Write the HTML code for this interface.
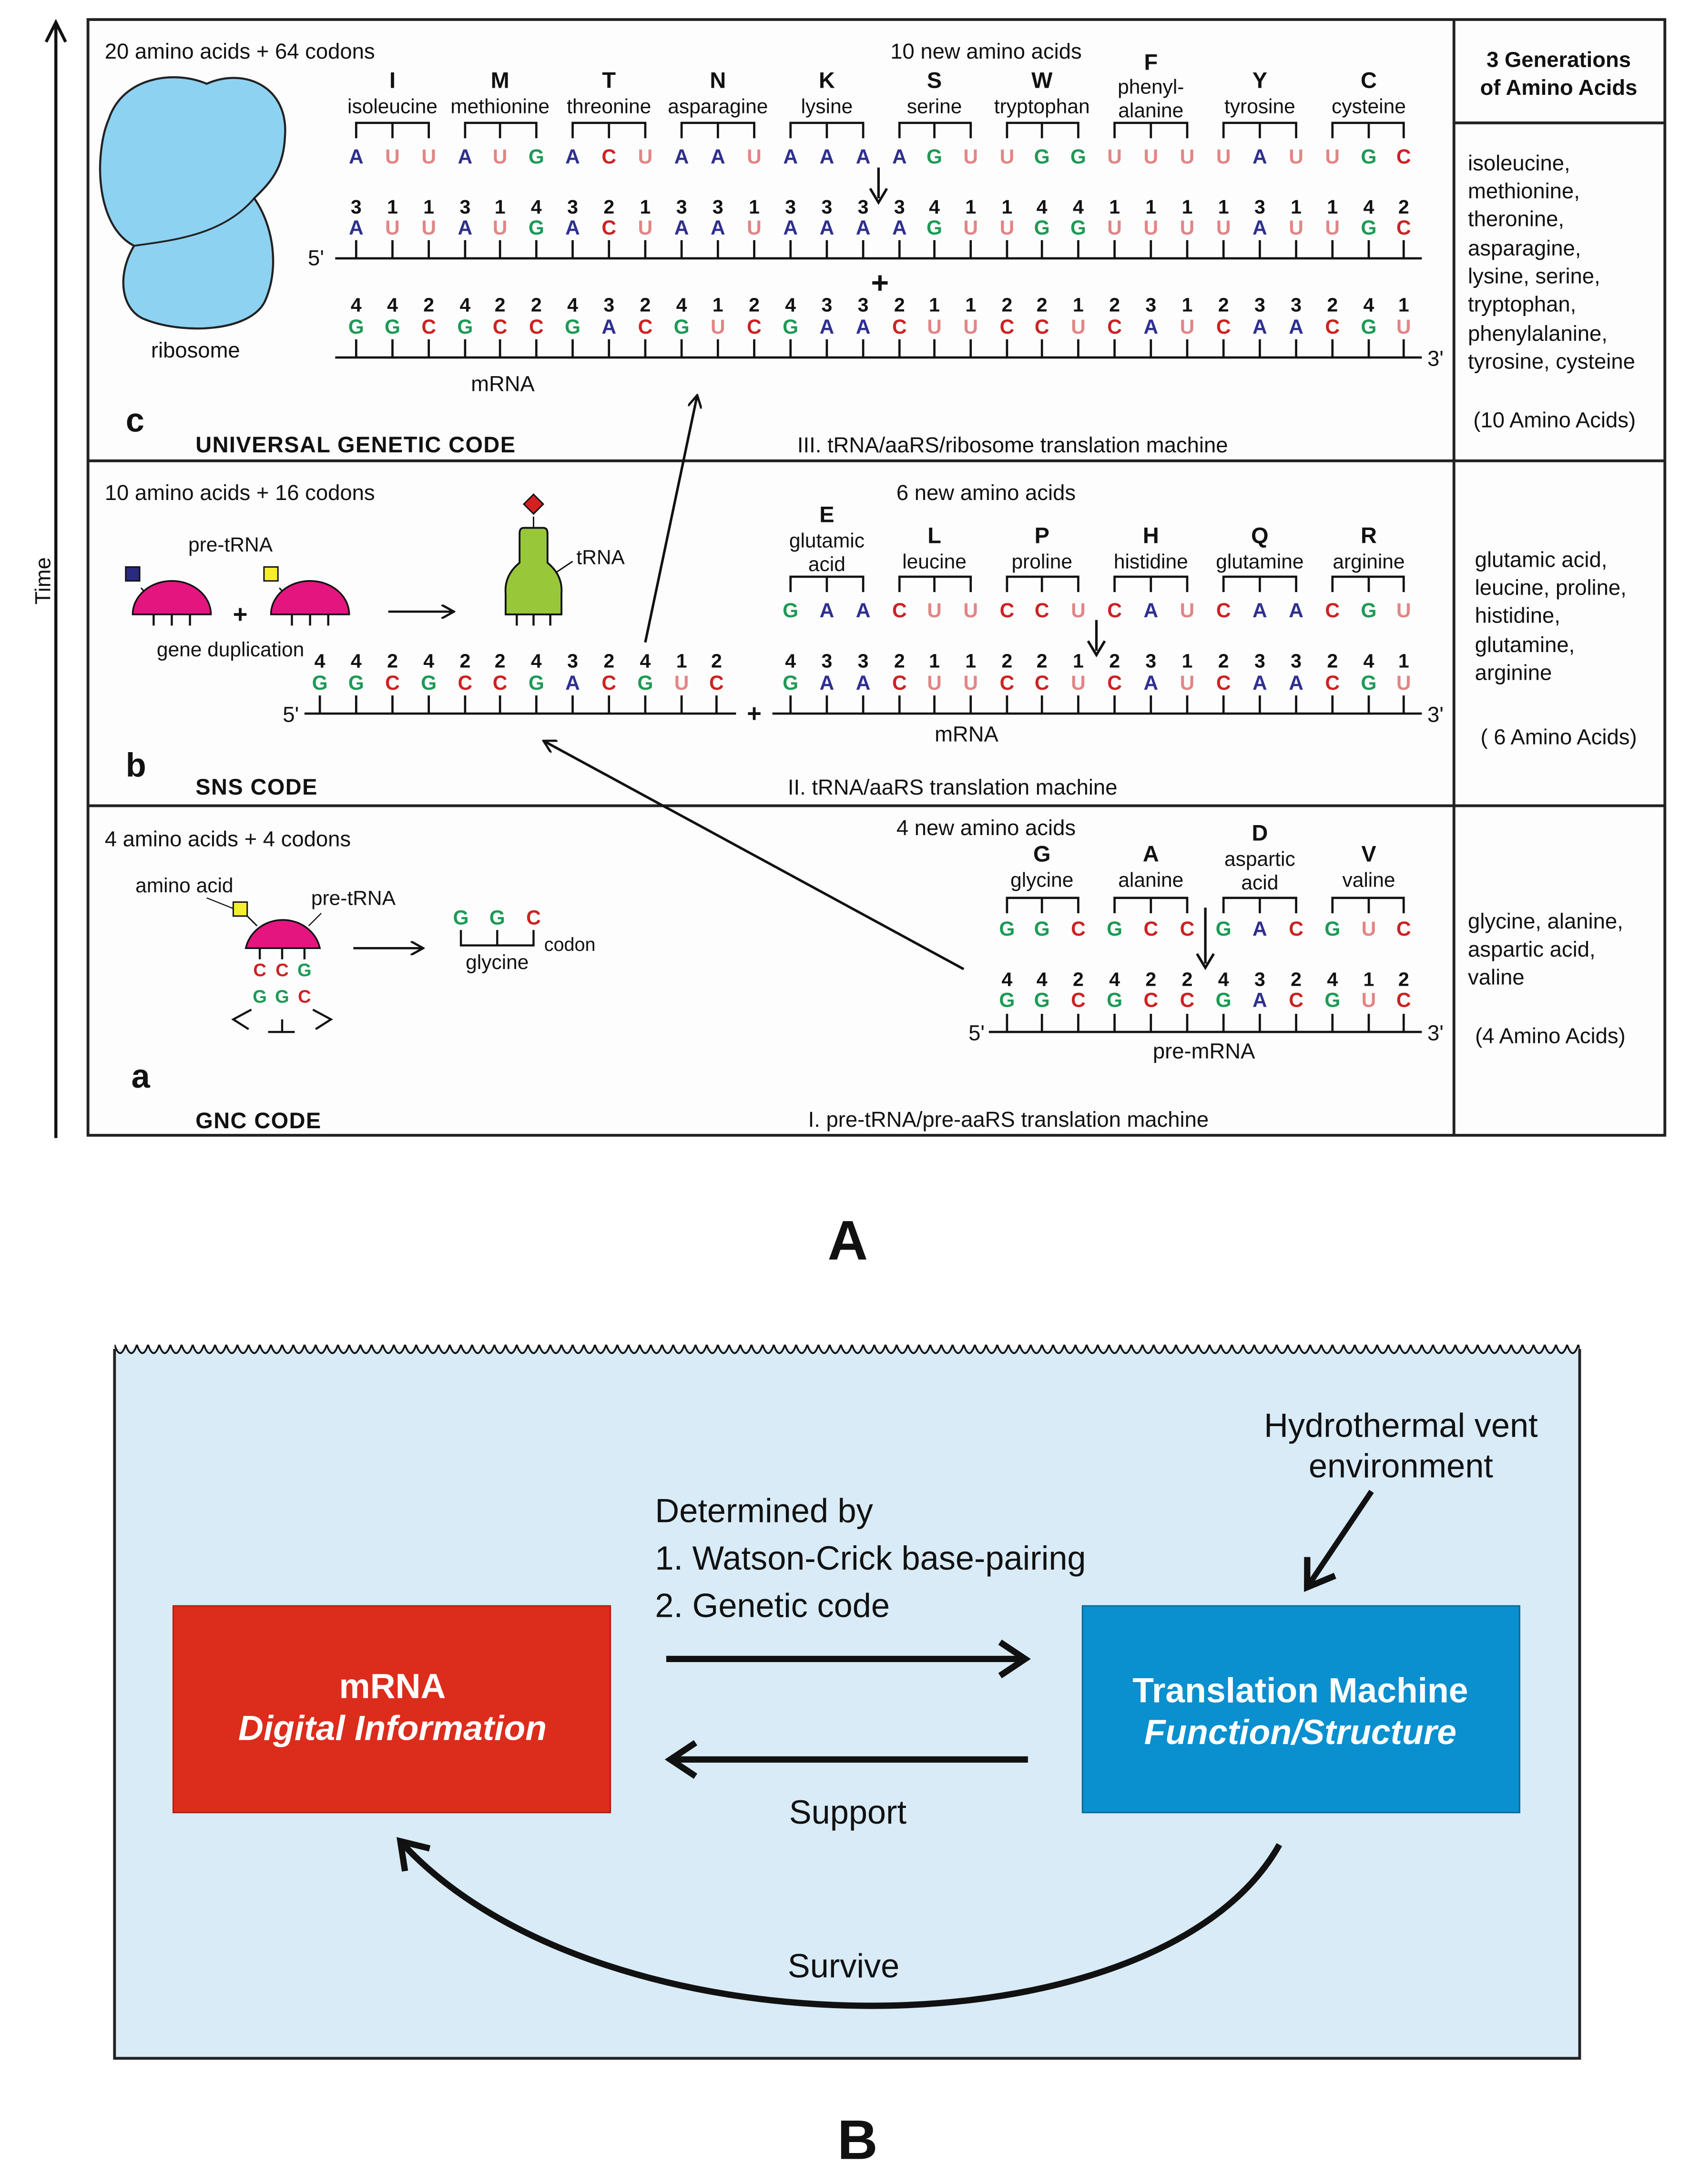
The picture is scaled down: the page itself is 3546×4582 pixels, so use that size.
<!DOCTYPE html>
<html><head><meta charset="utf-8"><style>
html,body{margin:0;padding:0;background:#fff}
svg{display:block}
text{font-family:"Liberation Sans",Arial,sans-serif;fill:#111}
.n{font-weight:bold;font-size:14.5px;text-anchor:middle}
.num{font-weight:bold;font-size:14px;text-anchor:middle;fill:#111}
.A{fill:#2e2f8e}.U{fill:#e28585}.G{fill:#1d9a55}.C{fill:#cc2222}
.lab{font-size:14.5px;text-anchor:middle}
.aa{font-size:16px;font-weight:bold;text-anchor:middle}
.t{font-size:15.5px}
.rc{font-size:15.5px}
.hd{font-size:16px;font-weight:bold;letter-spacing:.5px}
.bb{font-size:24px}
</style></head><body>
<svg width="3546" height="4582" viewBox="0 0 1210 1564" preserveAspectRatio="none" xmlns="http://www.w3.org/2000/svg">
<defs>
<marker id="ah" markerWidth="10" markerHeight="10" refX="8" refY="5" orient="auto" markerUnits="userSpaceOnUse"><path d="M0 0L9 5L0 10" fill="none" stroke="#111" stroke-width="1.6"/></marker>
<marker id="ah2" markerWidth="30" markerHeight="30" refX="22" refY="15" orient="auto" markerUnits="userSpaceOnUse"><path d="M6 3L24 15L6 27" fill="none" stroke="#111" stroke-width="4.5"/></marker>
<pattern id="wave" x="82" y="960" width="8" height="10" patternUnits="userSpaceOnUse"><path d="M0 3 Q2 9 4 9 Q6 9 8 3" fill="none" stroke="#111" stroke-width="1.3"/></pattern>
</defs>
<rect width="1210" height="1564" fill="#fff"/>
<!-- Panel A frame -->
<rect x="63" y="14" width="1129" height="799" fill="#fdfdfe" stroke="#222" stroke-width="2"/>
<path d="M1041 14V813M63 330H1192M63 577H1192M1041 88H1192" stroke="#222" stroke-width="2" fill="none"/>
<!-- time axis -->
<path d="M40 815V18" stroke="#111" stroke-width="2.2"/>
<path d="M33 30L40 16L47 30" fill="none" stroke="#111" stroke-width="2.2"/>
<text x="36" y="416" transform="rotate(-90 36 416)" class="t" text-anchor="middle">Time</text>

<!-- ===== Panel c ===== -->
<text x="75" y="42" class="t">20 amino acids + 64 codons</text>
<text x="706" y="42" class="t" text-anchor="middle">10 new amino acids</text>
<path d="M78 85 C88 55 125 50 148 60 C175 48 207 62 204 98 C203 122 192 132 182 142 C196 162 200 192 190 215 C180 238 130 240 102 228 C86 220 84 196 96 176 C76 166 70 136 72 112 C73 100 75 92 78 85Z" fill="#8ed2f2" stroke="#222" stroke-width="1.5"/>
<path d="M96 176 C125 172 160 168 182 142" fill="none" stroke="#222" stroke-width="1.3"/>
<text x="140" y="256" class="t" text-anchor="middle">ribosome</text>
<g class="aa"><text x="281" y="63">I</text><text x="358" y="63">M</text><text x="436" y="63">T</text><text x="514" y="63">N</text><text x="592" y="63">K</text><text x="669" y="63">S</text><text x="746" y="63">W</text><text x="824" y="50">F</text><text x="902" y="63">Y</text><text x="980" y="63">C</text></g>
<g class="lab"><text x="281" y="81">isoleucine</text><text x="358" y="81">methionine</text><text x="436" y="81">threonine</text><text x="514" y="81">asparagine</text><text x="592" y="81">lysine</text><text x="669" y="81">serine</text><text x="746" y="81">tryptophan</text><text x="824" y="67">phenyl-</text><text x="824" y="84">alanine</text><text x="902" y="81">tyrosine</text><text x="980" y="81">cysteine</text></g>
<path stroke="#111" stroke-width="1.6" fill="none" d="M255 99V88H307V99M281 88V99M333 99V88H384V99M358 88V99M410 99V88H462V99M436 88V99M488 99V88H540V99M514 88V99M566 99V88H618V99M592 88V99M644 99V88H695V99M669 88V99M721 99V88H772V99M746 88V99M798 99V88H850V99M824 88V99M876 99V88H928V99M902 88V99M954 99V88H1005V99M980 88V99"/>
<text y="117" class="n"><tspan x="255" class="A">A</tspan><tspan x="281" class="U">U</tspan><tspan x="307" class="U">U</tspan><tspan x="333" class="A">A</tspan><tspan x="358" class="U">U</tspan><tspan x="384" class="G">G</tspan><tspan x="410" class="A">A</tspan><tspan x="436" class="C">C</tspan><tspan x="462" class="U">U</tspan><tspan x="488" class="A">A</tspan><tspan x="514" class="A">A</tspan><tspan x="540" class="U">U</tspan><tspan x="566" class="A">A</tspan><tspan x="592" class="A">A</tspan><tspan x="618" class="A">A</tspan><tspan x="644" class="A">A</tspan><tspan x="669" class="G">G</tspan><tspan x="695" class="U">U</tspan><tspan x="721" class="U">U</tspan><tspan x="746" class="G">G</tspan><tspan x="772" class="G">G</tspan><tspan x="798" class="U">U</tspan><tspan x="824" class="U">U</tspan><tspan x="850" class="U">U</tspan><tspan x="876" class="U">U</tspan><tspan x="902" class="A">A</tspan><tspan x="928" class="U">U</tspan><tspan x="954" class="U">U</tspan><tspan x="980" class="G">G</tspan><tspan x="1005" class="C">C</tspan></text>
<path d="M629 120V142" stroke="#111" stroke-width="1.8"/><path d="M623 135L629 145L635 135" fill="none" stroke="#111" stroke-width="1.8"/>
<text y="153" class="num" x="255 281 307 333 358 384 410 436 462 488 514 540 566 592 618 644 669 695 721 746 772 798 824 850 876 902 928 954 980 1005">311314321331333341144111131142</text>
<text y="168" class="n"><tspan x="255" class="A">A</tspan><tspan x="281" class="U">U</tspan><tspan x="307" class="U">U</tspan><tspan x="333" class="A">A</tspan><tspan x="358" class="U">U</tspan><tspan x="384" class="G">G</tspan><tspan x="410" class="A">A</tspan><tspan x="436" class="C">C</tspan><tspan x="462" class="U">U</tspan><tspan x="488" class="A">A</tspan><tspan x="514" class="A">A</tspan><tspan x="540" class="U">U</tspan><tspan x="566" class="A">A</tspan><tspan x="592" class="A">A</tspan><tspan x="618" class="A">A</tspan><tspan x="644" class="A">A</tspan><tspan x="669" class="G">G</tspan><tspan x="695" class="U">U</tspan><tspan x="721" class="U">U</tspan><tspan x="746" class="G">G</tspan><tspan x="772" class="G">G</tspan><tspan x="798" class="U">U</tspan><tspan x="824" class="U">U</tspan><tspan x="850" class="U">U</tspan><tspan x="876" class="U">U</tspan><tspan x="902" class="A">A</tspan><tspan x="928" class="U">U</tspan><tspan x="954" class="U">U</tspan><tspan x="980" class="G">G</tspan><tspan x="1005" class="C">C</tspan></text>
<path stroke="#111" stroke-width="1.6" d="M240 185H1018M255 172V185M281 172V185M307 172V185M333 172V185M358 172V185M384 172V185M410 172V185M436 172V185M462 172V185M488 172V185M514 172V185M540 172V185M566 172V185M592 172V185M618 172V185M644 172V185M669 172V185M695 172V185M721 172V185M746 172V185M772 172V185M798 172V185M824 172V185M850 172V185M876 172V185M902 172V185M928 172V185M954 172V185M980 172V185M1005 172V185"/>
<text x="232" y="190" class="t" text-anchor="end">5'</text>
<text x="630" y="210" style="font-size:22px;font-weight:bold" text-anchor="middle">+</text>
<text y="223" class="num" x="255 281 307 333 358 384 410 436 462 488 514 540 566 592 618 644 669 695 721 746 772 798 824 850 876 902 928 954 980 1005">442422432412433211221231233241</text>
<text y="239" class="n"><tspan x="255" class="G">G</tspan><tspan x="281" class="G">G</tspan><tspan x="307" class="C">C</tspan><tspan x="333" class="G">G</tspan><tspan x="358" class="C">C</tspan><tspan x="384" class="C">C</tspan><tspan x="410" class="G">G</tspan><tspan x="436" class="A">A</tspan><tspan x="462" class="C">C</tspan><tspan x="488" class="G">G</tspan><tspan x="514" class="U">U</tspan><tspan x="540" class="C">C</tspan><tspan x="566" class="G">G</tspan><tspan x="592" class="A">A</tspan><tspan x="618" class="A">A</tspan><tspan x="644" class="C">C</tspan><tspan x="669" class="U">U</tspan><tspan x="695" class="U">U</tspan><tspan x="721" class="C">C</tspan><tspan x="746" class="C">C</tspan><tspan x="772" class="U">U</tspan><tspan x="798" class="C">C</tspan><tspan x="824" class="A">A</tspan><tspan x="850" class="U">U</tspan><tspan x="876" class="C">C</tspan><tspan x="902" class="A">A</tspan><tspan x="928" class="A">A</tspan><tspan x="954" class="C">C</tspan><tspan x="980" class="G">G</tspan><tspan x="1005" class="U">U</tspan></text>
<path stroke="#111" stroke-width="1.6" d="M240 256H1018M255 243V256M281 243V256M307 243V256M333 243V256M358 243V256M384 243V256M410 243V256M436 243V256M462 243V256M488 243V256M514 243V256M540 243V256M566 243V256M592 243V256M618 243V256M644 243V256M669 243V256M695 243V256M721 243V256M746 243V256M772 243V256M798 243V256M824 243V256M850 243V256M876 243V256M902 243V256M928 243V256M954 243V256M980 243V256M1005 243V256"/>
<text x="1022" y="262" class="t">3'</text>
<text x="360" y="280" class="t" text-anchor="middle">mRNA</text>
<text x="90" y="309" style="font-size:24px;font-weight:bold">c</text>
<text x="140" y="324" class="hd">UNIVERSAL GENETIC CODE</text>
<text x="725" y="324" class="t" text-anchor="middle">III. tRNA/aaRS/ribosome translation machine</text>
<text x="1116" y="48" class="t" text-anchor="middle" font-weight="bold">3 Generations</text>
<text x="1116" y="68" class="t" text-anchor="middle" font-weight="bold">of Amino Acids</text>
<g class="rc"><text x="1051" y="122">isoleucine,</text><text x="1051" y="142">methionine,</text><text x="1051" y="162">theronine,</text><text x="1051" y="183">asparagine,</text><text x="1051" y="203">lysine, serine,</text><text x="1051" y="223">tryptophan,</text><text x="1051" y="244">phenylalanine,</text><text x="1051" y="264">tyrosine, cysteine</text></g>
<text x="1113" y="306" class="rc" text-anchor="middle">(10 Amino Acids)</text>

<!-- ===== Panel b ===== -->
<text x="75" y="358" class="t">10 amino acids + 16 codons</text>
<text x="706" y="358" class="t" text-anchor="middle">6 new amino acids</text>
<text x="165" y="395" class="lab">pre-tRNA</text>
<path d="M101 421L109 430" stroke="#111"/><rect x="90" y="406" width="10" height="10" fill="#2a2a80" stroke="#111"/>
<path d="M95 440A28 24 0 0 1 151 440Z" fill="#e5157f" stroke="#111" stroke-width="1.2"/>
<path d="M110 440v8M123 440v8M136 440v8" stroke="#111" stroke-width="1.5"/>
<path d="M200 421L208 430" stroke="#111"/><rect x="189" y="406" width="10" height="10" fill="#f5ee30" stroke="#111"/>
<path d="M194 440A28 24 0 0 1 250 440Z" fill="#e5157f" stroke="#111" stroke-width="1.2"/>
<path d="M209 440v8M222 440v8M235 440v8" stroke="#111" stroke-width="1.5"/>
<text x="172" y="446" style="font-size:18px;font-weight:bold" text-anchor="middle">+</text>
<text x="165" y="470" class="lab">gene duplication</text>
<path d="M278 438H324" stroke="#111" stroke-width="1.6" marker-end="url(#ah)"/>
<path d="M382 370v8" stroke="#111"/><path d="M382 354L389 361L382 368L375 361Z" fill="#d42020" stroke="#111"/>
<path d="M375 378H389Q392 378 392 382V403Q403 412 402 425V440H362V425Q361 412 372 403V382Q372 378 375 378Z" fill="#98c83a" stroke="#111" stroke-width="1.3"/>
<path d="M370 440v8M382 440v8M394 440v8" stroke="#111" stroke-width="1.5"/>
<path d="M398 410L410 402" stroke="#111"/><text x="430" y="404" class="lab">tRNA</text>
<g class="aa"><text x="592" y="374">E</text><text x="669" y="389">L</text><text x="746" y="389">P</text><text x="824" y="389">H</text><text x="902" y="389">Q</text><text x="980" y="389">R</text></g>
<g class="lab"><text x="592" y="392">glutamic</text><text x="592" y="409">acid</text><text x="669" y="407">leucine</text><text x="746" y="407">proline</text><text x="824" y="407">histidine</text><text x="902" y="407">glutamine</text><text x="980" y="407">arginine</text></g>
<path stroke="#111" stroke-width="1.6" fill="none" d="M566 424V413H618V424M592 413V424M644 424V413H695V424M669 413V424M721 424V413H772V424M746 413V424M798 424V413H850V424M824 413V424M876 424V413H928V424M902 413V424M954 424V413H1005V424M980 413V424"/>
<text y="442" class="n"><tspan x="566" class="G">G</tspan><tspan x="592" class="A">A</tspan><tspan x="618" class="A">A</tspan><tspan x="644" class="C">C</tspan><tspan x="669" class="U">U</tspan><tspan x="695" class="U">U</tspan><tspan x="721" class="C">C</tspan><tspan x="746" class="C">C</tspan><tspan x="772" class="U">U</tspan><tspan x="798" class="C">C</tspan><tspan x="824" class="A">A</tspan><tspan x="850" class="U">U</tspan><tspan x="876" class="C">C</tspan><tspan x="902" class="A">A</tspan><tspan x="928" class="A">A</tspan><tspan x="954" class="C">C</tspan><tspan x="980" class="G">G</tspan><tspan x="1005" class="U">U</tspan></text>
<path d="M785 444V466" stroke="#111" stroke-width="1.8"/><path d="M779 459L785 469L791 459" fill="none" stroke="#111" stroke-width="1.8"/>
<text y="478" class="num" x="229 255 281 307 333 358 384 410 436 462 488 513">442422432412</text>
<text y="478" class="num" x="566 592 618 644 669 695 721 746 772 798 824 850 876 902 928 954 980 1005">433211221231233241</text>
<text y="494" class="n"><tspan x="229" class="G">G</tspan><tspan x="255" class="G">G</tspan><tspan x="281" class="C">C</tspan><tspan x="307" class="G">G</tspan><tspan x="333" class="C">C</tspan><tspan x="358" class="C">C</tspan><tspan x="384" class="G">G</tspan><tspan x="410" class="A">A</tspan><tspan x="436" class="C">C</tspan><tspan x="462" class="G">G</tspan><tspan x="488" class="U">U</tspan><tspan x="513" class="C">C</tspan><tspan x="566" class="G">G</tspan><tspan x="592" class="A">A</tspan><tspan x="618" class="A">A</tspan><tspan x="644" class="C">C</tspan><tspan x="669" class="U">U</tspan><tspan x="695" class="U">U</tspan><tspan x="721" class="C">C</tspan><tspan x="746" class="C">C</tspan><tspan x="772" class="U">U</tspan><tspan x="798" class="C">C</tspan><tspan x="824" class="A">A</tspan><tspan x="850" class="U">U</tspan><tspan x="876" class="C">C</tspan><tspan x="902" class="A">A</tspan><tspan x="928" class="A">A</tspan><tspan x="954" class="C">C</tspan><tspan x="980" class="G">G</tspan><tspan x="1005" class="U">U</tspan></text>
<path stroke="#111" stroke-width="1.6" d="M218 511H527M229 498V511M255 498V511M281 498V511M307 498V511M333 498V511M358 498V511M384 498V511M410 498V511M436 498V511M462 498V511M488 498V511M513 498V511M553 511H1018M566 498V511M592 498V511M618 498V511M644 498V511M669 498V511M695 498V511M721 498V511M746 498V511M772 498V511M798 498V511M824 498V511M850 498V511M876 498V511M902 498V511M928 498V511M954 498V511M980 498V511M1005 498V511"/>
<text x="214" y="517" class="t" text-anchor="end">5'</text>
<text x="540" y="517" style="font-size:18px;font-weight:bold" text-anchor="middle">+</text>
<text x="1022" y="517" class="t">3'</text>
<text x="692" y="531" class="t" text-anchor="middle">mRNA</text>
<text x="90" y="556" style="font-size:24px;font-weight:bold">b</text>
<text x="140" y="569" class="hd">SNS CODE</text>
<text x="682" y="569" class="t" text-anchor="middle">II. tRNA/aaRS translation machine</text>
<g class="rc"><text x="1056" y="406">glutamic acid,</text><text x="1056" y="426">leucine, proline,</text><text x="1056" y="446">histidine,</text><text x="1056" y="467">glutamine,</text><text x="1056" y="487">arginine</text></g>
<text x="1116" y="533" class="rc" text-anchor="middle">( 6 Amino Acids)</text>
<!-- long arrows -->
<path d="M462 460L499 284" stroke="#111" stroke-width="1.8" marker-end="url(#ah)"/>
<path d="M690 694L390 531" stroke="#111" stroke-width="1.8" marker-end="url(#ah)"/>

<!-- ===== Panel a ===== -->
<text x="75" y="606" class="t">4 amino acids + 4 codons</text>
<text x="706" y="598" class="t" text-anchor="middle">4 new amino acids</text>
<text x="132" y="639" class="lab">amino acid</text>
<path d="M148 643L168 651" stroke="#111" stroke-width=".8"/>
<path d="M176 655L184 663" stroke="#111"/><rect x="167" y="646" width="10" height="10" fill="#f5ee30" stroke="#111"/>
<path d="M176 679A27 25 0 0 1 229 679Z" fill="#e5157f" stroke="#111" stroke-width="1.2"/>
<path d="M186 679v8M202 679v8M218 679v8" stroke="#111" stroke-width="1.5"/>
<text x="253" y="648" class="lab">pre-tRNA</text><path d="M221 663L230 654" stroke="#111" stroke-width=".8"/>
<text y="699" class="n" style="font-size:13px"><tspan x="186" class="C">C</tspan><tspan x="202" class="C">C</tspan><tspan x="218" class="G">G</tspan></text>
<text y="718" class="n" style="font-size:13px"><tspan x="186" class="G">G</tspan><tspan x="202" class="G">G</tspan><tspan x="218" class="C">C</tspan></text>
<path d="M180 723L167 730L178 737M192 739H211M202 730V739M224 723L237 730L226 737" fill="none" stroke="#111" stroke-width="1.5"/>
<path d="M253 679H302" stroke="#111" stroke-width="1.6" marker-end="url(#ah)"/>
<text y="662" class="n"><tspan x="330" class="G">G</tspan><tspan x="356" class="G">G</tspan><tspan x="382" class="C">C</tspan></text>
<path d="M330 666V677H382V666M356 666V677" fill="none" stroke="#111" stroke-width="1.5"/>
<text x="356" y="694" class="lab">glycine</text>
<text x="408" y="681" class="lab" style="font-size:13.5px">codon</text>
<g class="aa"><text x="746" y="617">G</text><text x="824" y="617">A</text><text x="902" y="602">D</text><text x="980" y="617">V</text></g>
<g class="lab"><text x="746" y="635">glycine</text><text x="824" y="635">alanine</text><text x="902" y="620">aspartic</text><text x="902" y="637">acid</text><text x="980" y="635">valine</text></g>
<path stroke="#111" stroke-width="1.6" fill="none" d="M721 654V643H772V654M746 643V654M798 654V643H850V654M824 643V654M876 654V643H928V654M902 643V654M954 654V643H1005V654M980 643V654"/>
<text y="670" class="n"><tspan x="721" class="G">G</tspan><tspan x="746" class="G">G</tspan><tspan x="772" class="C">C</tspan><tspan x="798" class="G">G</tspan><tspan x="824" class="C">C</tspan><tspan x="850" class="C">C</tspan><tspan x="876" class="G">G</tspan><tspan x="902" class="A">A</tspan><tspan x="928" class="C">C</tspan><tspan x="954" class="G">G</tspan><tspan x="980" class="U">U</tspan><tspan x="1005" class="C">C</tspan></text>
<path d="M863 650V690" stroke="#111" stroke-width="1.8"/><path d="M857 683L863 693L869 683" fill="none" stroke="#111" stroke-width="1.8"/>
<text y="706" class="num" x="721 746 772 798 824 850 876 902 928 954 980 1005">442422432412</text>
<text y="721" class="n"><tspan x="721" class="G">G</tspan><tspan x="746" class="G">G</tspan><tspan x="772" class="C">C</tspan><tspan x="798" class="G">G</tspan><tspan x="824" class="C">C</tspan><tspan x="850" class="C">C</tspan><tspan x="876" class="G">G</tspan><tspan x="902" class="A">A</tspan><tspan x="928" class="C">C</tspan><tspan x="954" class="G">G</tspan><tspan x="980" class="U">U</tspan><tspan x="1005" class="C">C</tspan></text>
<path stroke="#111" stroke-width="1.6" d="M708 739H1018M721 726V739M746 726V739M772 726V739M798 726V739M824 726V739M850 726V739M876 726V739M902 726V739M928 726V739M954 726V739M980 726V739M1005 726V739"/>
<text x="705" y="745" class="t" text-anchor="end">5'</text>
<text x="1022" y="745" class="t">3'</text>
<text x="862" y="758" class="t" text-anchor="middle">pre-mRNA</text>
<text x="94" y="779" style="font-size:24px;font-weight:bold">a</text>
<text x="140" y="808" class="hd">GNC CODE</text>
<text x="722" y="807" class="t" text-anchor="middle">I. pre-tRNA/pre-aaRS translation machine</text>
<g class="rc"><text x="1051" y="665">glycine, alanine,</text><text x="1051" y="685">aspartic acid,</text><text x="1051" y="705">valine</text></g>
<text x="1110" y="747" class="rc" text-anchor="middle">(4 Amino Acids)</text>

<text x="607" y="902" style="font-size:40px;font-weight:bold" text-anchor="middle">A</text>

<!-- ===== Panel B ===== -->
<rect x="82" y="966" width="1049" height="508" fill="#d8ebf7"/>
<rect x="82" y="960" width="1049" height="10" fill="url(#wave)"/>
<path d="M82 966V1474H1131V966" fill="none" stroke="#222" stroke-width="2"/>
<rect x="124" y="1150" width="313" height="148" fill="#dc2c1c" stroke="#b02010"/>
<text x="281" y="1216" style="font-size:25px;font-weight:bold;fill:#fff" text-anchor="middle">mRNA</text>
<text x="281" y="1246" style="font-size:25px;font-weight:bold;font-style:italic;fill:#fff" text-anchor="middle">Digital Information</text>
<rect x="775" y="1150" width="313" height="148" fill="#0a8fcf" stroke="#076a9a"/>
<text x="931" y="1219" style="font-size:25px;font-weight:bold;fill:#fff" text-anchor="middle">Translation Machine</text>
<text x="931" y="1249" style="font-size:25px;font-weight:bold;font-style:italic;fill:#fff" text-anchor="middle">Function/Structure</text>
<text x="1003" y="1029" class="bb" text-anchor="middle">Hydrothermal vent</text>
<text x="1003" y="1058" class="bb" text-anchor="middle">environment</text>
<path d="M982 1068L937 1135" stroke="#111" stroke-width="4" marker-end="url(#ah2)"/>
<text x="469" y="1090" class="bb">Determined by</text>
<text x="469" y="1124" class="bb">1. Watson-Crick base-pairing</text>
<text x="469" y="1158" class="bb">2. Genetic code</text>
<path d="M477 1188H732" stroke="#111" stroke-width="4.5" marker-end="url(#ah2)"/>
<path d="M736 1260H482" stroke="#111" stroke-width="4.5" marker-end="url(#ah2)"/>
<text x="607" y="1306" class="bb" text-anchor="middle">Support</text>
<path d="M916 1321C830 1475 430 1475 288 1320" fill="none" stroke="#111" stroke-width="4.5" marker-end="url(#ah2)"/>
<text x="604" y="1416" class="bb" text-anchor="middle">Survive</text>

<text x="614" y="1546" style="font-size:40px;font-weight:bold" text-anchor="middle">B</text>
</svg>
</body></html>
